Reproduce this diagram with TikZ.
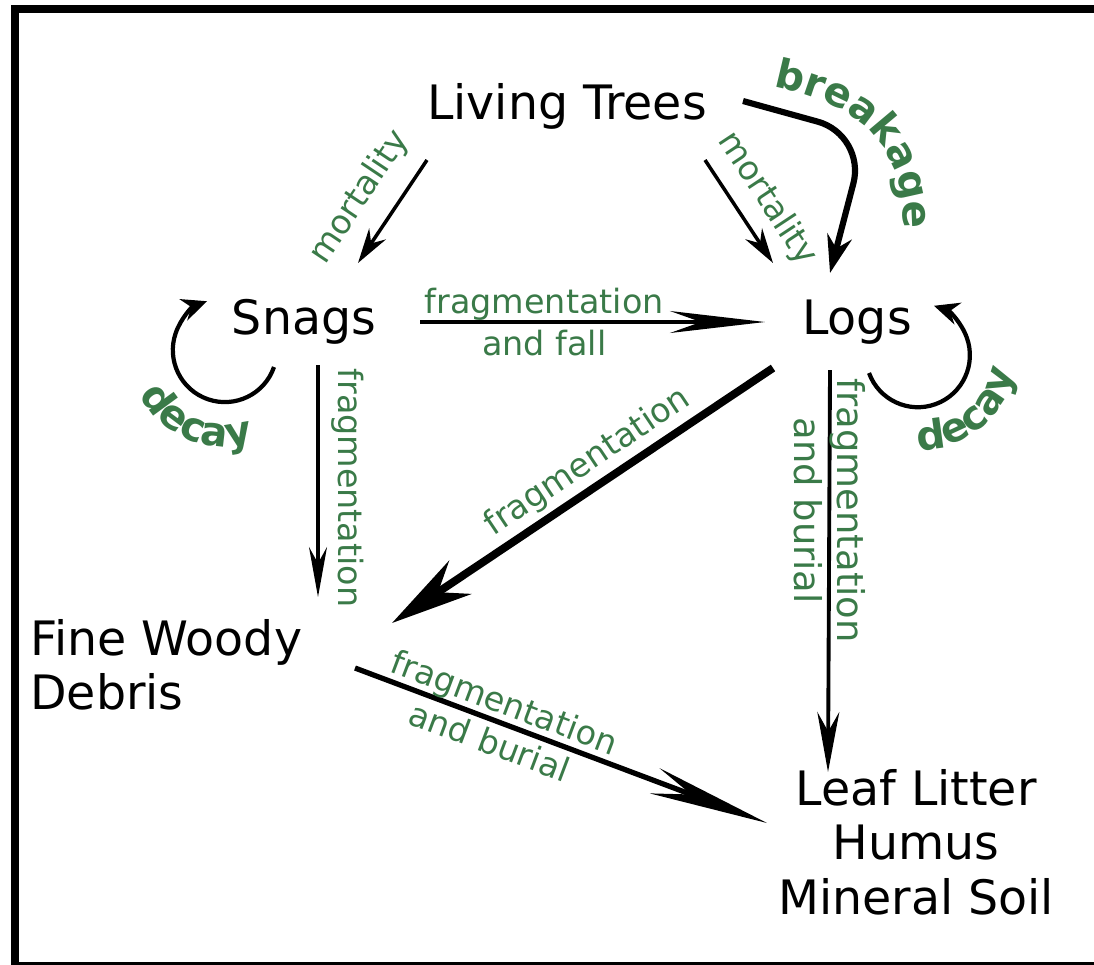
\documentclass[tikz,border=0pt]{standalone}
\usepackage{fontspec}
\setmainfont{DejaVu Sans}
\usepackage{xcolor}
\usetikzlibrary{arrows.meta, calc, decorations.text}

\definecolor{leafgreen}{RGB}{58,122,72}
\newcommand{\curvefont}{\bfseries\fontsize{23}{27}\selectfont}

\begin{document}
\begin{tikzpicture}[
    x=0.02cm, y=0.02cm,
    pool/.style={font=\fontsize{27}{31}\selectfont, inner sep=0pt},
    lab/.style={font=\fontsize{19}{24}\selectfont, text=leafgreen, inner sep=1pt},
    flow/.style={line width=2pt, -{Stealth[length=0.7cm, width=0.4cm]}},
    bigflow/.style={line width=4.5pt, -{Stealth[length=1.64cm, width=0.8cm]}},
    loopflow/.style={line width=2.4pt, -{Stealth[length=0.5cm, width=0.45cm]}},
    boxline/.style={line width=4.6pt},
    curved/.style={decorate, decoration={text along path, text align=center, text color=leafgreen, text={|\curvefont|#1}}},
]
    \useasboundingbox (0,0) rectangle (1094,-964);
    \clip (0,0) rectangle (1094,-964);
    \draw[boxline] (1110,-9) -- (15,-9) -- (15,-966) -- (1110,-966);

    % Pools
    \node[pool] (trees) at (567,-106) {Living Trees};
    \node[pool] (snags) at (304,-322) {Snags};
    \node[pool] (logs) at (857,-322) {Logs};
    \node[pool, align=left, anchor=west] (fwd) at (30,-665) {Fine Woody\\Debris};
    \node[pool, align=center] (soil) at (916,-842) {Leaf Litter\\Humus\\Mineral Soil};

    % Mortality
    \draw[flow] ($(trees)+(-140,-54)$) -- node[lab, sloped, above=9pt, pos=0.55] {mortality} ($(snags)+(54,59)$);
    \draw[flow] ($(trees)+(138,-54)$) -- node[lab, sloped, above=6pt, pos=0.54] {mortality} ($(logs)+(-84,59)$);

    % Breakage
    \draw[flow, line width=3.5pt, rounded corners=1cm, -{Stealth[length=0.75cm, width=0.5cm]}] ($(trees)+(176,5)$) -- ($(logs)+(9,187)$) -- ($(logs)+(-27,49)$);
    \path[curved=breakage] (756,-84) .. controls (856,-98) and (912,-144) .. (902,-246);

    % Snags to logs
    \draw[flow, line width=2.2pt, -{Stealth[length=1.9cm, width=0.44cm]}] ($(snags)+(116,0)$) -- node[lab, align=center, pos=0.36] {fragmentation\\and fall} ($(logs)+(-92,0)$);

    % Decay
    \draw[loopflow] ($(snags)+(-30,-45)$) arc[start angle=-19, end angle=-250, radius=52];
    \path[curved=decay] (135.7,-387.9) arc[start angle=203, end angle=292, radius=96];
    \draw[loopflow] ($(logs)+(12,-51)$) arc[start angle=200, end angle=432, radius=52];
    \path[curved=decay] (907,-449) arc[start angle=262, end angle=357, radius=95];

    % Fragmentation
    \draw[flow, line width=1.8pt, -{Stealth[length=1cm, width=0.36cm]}] ($(snags)+(14,-43)$) -- node[lab, rotate=-90, above=6pt, pos=0.53] {fragmentation} ($(fwd.west)+(288,68)$);
    \draw[bigflow] ($(logs)+(-84,-46)$) -- node[lab, sloped, above=1.5pt, pos=0.45] {fragmentation} ($(fwd.west)+(362,42)$);
    \draw[flow, line width=2.2pt, -{Stealth[length=1.2cm, width=0.44cm]}] ($(logs)+(-27,-48)$) -- node[lab, font=\fontsize{21}{24.5}\selectfont, rotate=-90, align=center, pos=0.35] {fragmentation\\and burial} ($(soil)+(-88,70)$);
    \draw[flow, line width=3pt, -{Stealth[length=2.4cm, width=0.54cm]}] ($(fwd.west)+(325,-3)$) -- node[lab, sloped, align=center, pos=0.345] {fragmentation\\and burial} ($(soil)+(-149,19)$);
\end{tikzpicture}
\end{document}
